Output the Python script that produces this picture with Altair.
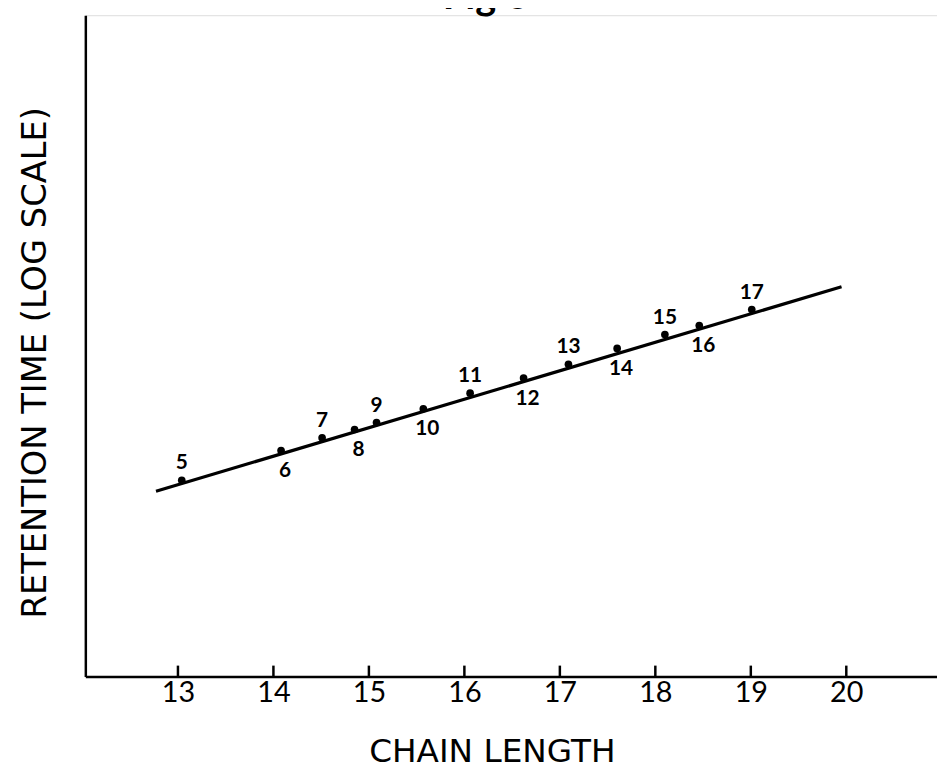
import altair as alt
import pandas as pd

# ---- data ----
chain_length = [13.04, 14.08, 14.51, 14.85, 15.08, 15.57, 16.06, 16.62, 17.09, 17.60, 18.10, 18.46, 19.01]
retention = [7.77, 10.6, 12.1, 13.2, 14.2, 16.4, 19.3, 22.6, 26.1, 30.8, 35.6, 39.1, 46.2]
point_labels = ["5", "6", "7", "8", "9", "10", "11", "12", "13", "14", "15", "16", "17"]
label_side = ["above", "below", "above", "below", "above", "below", "above",
              "below", "above", "below", "above", "below", "above"]
fit_x = [12.77, 19.95]
fit_y = [6.93, 58.6]
x_ticks = [13, 14, 15, 16, 17, 18, 19, 20]
figure_title = ["Fig 6"]

W, H = 859, 667
FONT = "Lato"
WIDE = "DejaVu Sans"

pts = pd.DataFrame({"chain": chain_length, "rt": retention,
                    "lab": point_labels, "side": label_side})
fit = pd.DataFrame({"chain": fit_x, "rt": fit_y})
ticks = pd.DataFrame({"chain": x_ticks})
ttl = pd.DataFrame({"t": figure_title})

xs = alt.Scale(domain=[12.03, 20.95], nice=False, zero=False)
ys = alt.Scale(type="log", domain=[1, 1000], nice=False)

xaxis = alt.Axis(values=x_ticks, format="d", ticks=False, grid=False,
                 domainColor="black", domainWidth=2.5, labelFont=FONT,
                 labelFontSize=29, labelColor="black", labelPadding=2,
                 labelBaseline="top",
                 title="CHAIN  LENGTH", titleFont=WIDE, titleFontSize=33,
                 titleFontWeight="normal", titleColor="black",
                 titleX=410, titleY=86, titleAlign="center",
                 titleBaseline="alphabetic")
yaxis = alt.Axis(ticks=False, labels=False, grid=False, domainColor="black",
                 domainWidth=2.5, title="RETENTION  TIME  (LOG  SCALE)",
                 titleFont=WIDE, titleFontSize=34, titleFontWeight="normal",
                 titleColor="black", titleAngle=270, titleX=-50, titleY=350,
                 titleAlign="center", titleBaseline="middle")

line = alt.Chart(fit).mark_line(color="black", strokeWidth=3.2).encode(
    x=alt.X("chain:Q", scale=xs, axis=xaxis),
    y=alt.Y("rt:Q", scale=ys, axis=yaxis),
)
dots = alt.Chart(pts).mark_circle(size=60, color="black", opacity=1).encode(
    x=alt.X("chain:Q", scale=xs), y=alt.Y("rt:Q", scale=ys))
above = alt.Chart(pts).transform_filter(alt.datum.side == "above").mark_text(
    dy=-17, fontSize=21, fontWeight="bold", font=FONT, color="black").encode(
    x=alt.X("chain:Q", scale=xs), y=alt.Y("rt:Q", scale=ys), text="lab:N")
below = alt.Chart(pts).transform_filter(alt.datum.side == "below").mark_text(
    dy=21, dx=4, fontSize=21, fontWeight="bold", font=FONT, color="black").encode(
    x=alt.X("chain:Q", scale=xs), y=alt.Y("rt:Q", scale=ys), text="lab:N")
tickmarks = alt.Chart(ticks).mark_rule(color="black", strokeWidth=2.5).encode(
    x=alt.X("chain:Q", scale=xs), y=alt.value(H), y2=alt.value(H - 11))
title_mark = alt.Chart(ttl).mark_text(
    fontSize=40, fontWeight="bold", font=FONT, color="black",
    align="center", baseline="alphabetic").encode(
    x=alt.value(404), y=alt.value(-6), text="t:N")

chart = alt.layer(line, tickmarks, dots, above, below, title_mark).properties(
    width=W, height=H,
    autosize=alt.AutoSizeParams(type="none"),
    padding={"left": 78, "top": 4, "right": 0, "bottom": 90},
).configure_view(stroke="transparent", strokeWidth=0).configure(background="white")

chart.save("out.html", embed_options={"renderer": "svg", "actions": False})
